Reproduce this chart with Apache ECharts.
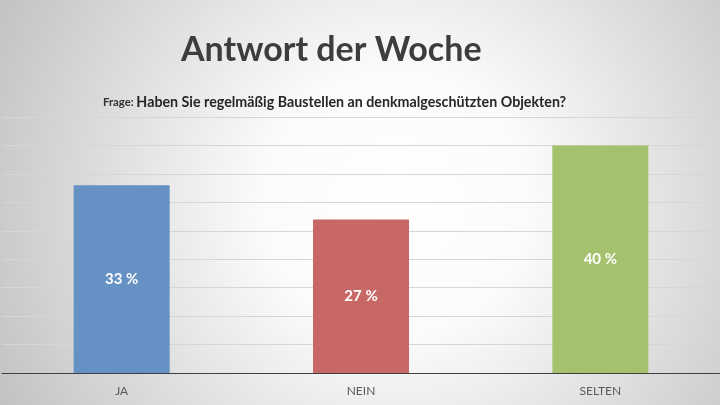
<!DOCTYPE html>
<html>
<head>
<meta charset="utf-8">
<script src="https://cdn.jsdelivr.net/npm/echarts@6.0.0/dist/echarts.min.js"></script>
<style>
  html, body { margin: 0; padding: 0; }
  #chart { width: 720px; height: 405px; }
</style>
</head>
<body>
<div id="chart"></div>
<script>
var categories = ['JA', 'NEIN', 'SELTEN'];
var answerValues = [33, 27, 40];
var barColors = ['#6691c5', '#c86866', '#a4c26e'];

var chart = echarts.init(document.getElementById('chart'));

var option = {
    backgroundColor: {
        type: 'radial',
        x: 0.55,
        y: 0.5,
        r: 1.1,
        colorStops: [
            { offset: 0, color: '#ffffff' },
            { offset: 0.3, color: '#fbfbfb' },
            { offset: 1, color: '#c2c2c2' }
        ]
    },
    title: [
        {
            text: 'Antwort der Woche',
            left: 176,
            top: 28,
            textStyle: {
                fontFamily: 'Lato',
                fontWeight: 'bold',
                fontSize: 34,
                color: '#3d3d3d'
            }
        },
        {
            text: '{a|Frage: }{b|Haben Sie regelmäßig Baustellen an denkmalgeschützten Objekten?}',
            left: 98,
            top: 90,
            textStyle: {
                rich: {
                    a: { fontFamily: 'Lato', fontWeight: 'bold', fontSize: 11.3, color: '#333333' },
                    b: { fontFamily: 'Lato', fontWeight: 'bold', fontSize: 14.25, color: '#262626' }
                }
            }
        }
    ],
    grid: {
        left: 2,
        right: 0,
        top: 117,
        bottom: 32
    },
    xAxis: {
        type: 'category',
        data: categories,
        axisTick: { show: false },
        axisLine: { lineStyle: { color: '#404040', width: 1.2 } },
        axisLabel: {
            margin: 12,
            fontFamily: 'Lato',
            fontSize: 12,
            color: '#595959'
        }
    },
    yAxis: {
        type: 'value',
        min: 0,
        max: 45,
        interval: 5,
        axisLabel: { show: false },
        axisLine: { show: false },
        axisTick: { show: false },
        splitLine: { lineStyle: { color: '#d6d6d6', width: 1 } }
    },
    series: [
        {
            type: 'bar',
            barWidth: 96,
            data: answerValues.map(function (v, i) {
                return { value: v, itemStyle: { color: barColors[i] } };
            }),
            label: {
                show: true,
                position: 'inside',
                formatter: '{c} %',
                fontFamily: 'Lato',
                fontWeight: 'bold',
                fontSize: 15,
                color: '#ffffff'
            }
        }
    ]
};

chart.setOption(option);
</script>
</body>
</html>
